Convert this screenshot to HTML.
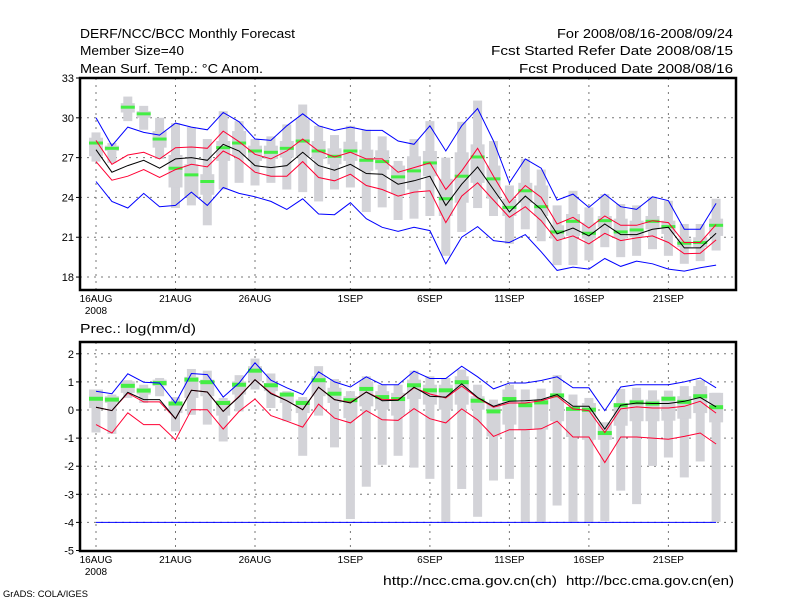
<!DOCTYPE html>
<html><head><meta charset="utf-8"><style>
body{margin:0;background:#fff;}
svg{display:block;font-family:"Liberation Sans",sans-serif;}
</style></head><body>
<svg id="c" width="800" height="600" viewBox="0 0 800 600">
<rect width="800" height="600" fill="#fff"/>
<g font-size="13" fill="#000">
<text x="80" y="38" textLength="215" lengthAdjust="spacingAndGlyphs">DERF/NCC/BCC Monthly Forecast</text>
<text x="80" y="55" textLength="104" lengthAdjust="spacingAndGlyphs">Member Size=40</text>
<text x="80" y="73" textLength="183" lengthAdjust="spacingAndGlyphs">Mean Surf. Temp.: °C Anom.</text>
<text x="733" y="38" text-anchor="end" textLength="176" lengthAdjust="spacingAndGlyphs">For 2008/08/16-2008/09/24</text>
<text x="733" y="55" text-anchor="end" textLength="242" lengthAdjust="spacingAndGlyphs">Fcst Started Refer Date 2008/08/15</text>
<text x="733" y="73" text-anchor="end" textLength="214" lengthAdjust="spacingAndGlyphs">Fcst Produced Date 2008/08/16</text>
<text x="80" y="333" textLength="116" lengthAdjust="spacingAndGlyphs">Prec.: log(mm/d)</text>
<text x="383" y="585" textLength="174" lengthAdjust="spacingAndGlyphs">http://ncc.cma.gov.cn(ch)</text>
<text x="566" y="585" textLength="168" lengthAdjust="spacingAndGlyphs">http://bcc.cma.gov.cn(en)</text>
<text x="3" y="597" font-size="9" textLength="85" lengthAdjust="spacingAndGlyphs">GrADS: COLA/IGES</text>
</g>
<g id="top"></g>
<g id="bot"></g>
</svg>
<script>
const dayLabels = ["16AUG","21AUG","26AUG","1SEP","6SEP","11SEP","16SEP","21SEP"];
const dayLabelIdx = [0,5,10,16,21,26,31,36];
const tTicks = [33,30,27,24,21,18];
const pTicks = [2,1,0,-1,-2,-3,-4,-5];

const tMax = [30.0,27.9,29.3,28.9,28.7,29.6,29.3,29.1,30.4,29.7,28.4,28.3,29.4,30.3,29.4,29.05,29.3,29.05,29.05,28.25,28.0,29.4,27.5,29.4,30.7,28.25,25.1,26.9,26.2,23.8,24.25,23.25,24.25,23.3,23.1,24.05,23.75,21.6,21.6,23.55];
const tUp = [28.3,26.5,27.2,27.4,26.9,27.75,27.8,27.7,29.0,28.2,27.25,26.9,27.5,28.4,27.5,27.05,27.4,26.9,26.9,25.9,26.25,26.6,24.6,26.0,27.7,25.6,23.6,24.9,24.0,22.0,22.5,21.7,22.6,21.9,21.9,22.25,22.1,20.6,20.6,21.95];
const tMean = [27.6,25.9,26.4,26.8,26.2,26.9,27.0,26.8,28.0,27.5,26.4,26.25,26.4,27.4,26.4,26.05,26.5,25.8,25.75,25.0,25.25,25.6,23.4,25.0,26.3,24.6,22.9,24.1,23.1,21.25,21.7,21.1,22.0,21.2,21.2,21.6,21.75,20.2,20.2,21.3];
const tLo = [26.7,25.3,25.6,26.1,25.5,26.1,26.5,26.3,27.5,26.9,25.9,25.6,25.6,26.7,25.5,25.25,25.75,24.9,24.6,24.1,24.4,24.5,22.1,24.1,25.1,23.8,22.5,23.3,22.25,20.75,21.1,20.5,21.3,20.75,20.95,21.1,20.6,19.75,19.8,20.8];
const tMin = [25.2,23.7,23.2,24.3,23.3,23.4,24.4,23.4,24.75,24.3,24.05,23.7,23.1,23.9,22.75,22.7,23.6,22.4,21.75,21.45,21.75,21.5,19.0,21.0,21.8,20.75,20.6,21.2,19.9,18.5,18.75,18.6,19.4,18.8,19.2,19.0,18.6,18.45,18.7,18.9];
const tMed = [28.1,27.7,30.8,30.3,28.4,26.2,25.7,25.2,27.75,28.1,27.5,27.4,27.7,28.25,27.5,27.1,27.5,26.8,26.7,25.55,26.0,26.6,23.9,25.6,27.05,25.4,23.25,24.5,23.3,21.4,22.2,21.3,22.25,21.4,21.55,22.2,21.8,20.55,20.6,21.9];
const tWhHi = [28.9,28.1,31.6,30.9,30.0,29.6,29.3,28.4,30.5,29.75,28.4,28.6,29.5,31.0,29.4,28.7,29.4,29.1,28.6,26.75,28.4,29.75,27.0,29.7,31.3,28.25,24.9,26.9,26.1,23.4,24.5,23.25,24.25,23.5,23.4,24.05,23.75,22.0,22.0,23.9];
const tWhLo = [26.7,26.6,29.75,29.1,26.9,23.2,23.4,21.9,24.6,25.1,24.9,25.1,24.6,24.4,23.7,24.6,24.75,22.9,23.25,22.3,22.4,22.6,19.6,21.4,23.2,22.6,20.5,21.6,20.7,18.9,18.9,19.25,20.25,19.5,19.6,20.1,19.6,19.0,19.2,20.0];
const tBoxHi = [28.5,27.9,31.1,30.5,29.0,27.2,26.5,25.75,28.25,29.0,27.9,27.9,28.25,29.9,28.25,27.7,28.2,27.6,27.55,26.4,27.1,27.5,25.4,27.4,28.0,26.4,23.9,25.1,24.9,21.9,22.75,22.1,22.6,22.4,22.25,22.6,22.25,20.9,21.0,22.4];
const tBoxLo = [27.1,27.5,30.4,30.0,27.75,24.75,24.0,24.2,26.75,27.1,26.75,26.9,27.0,27.1,26.9,26.5,26.75,26.0,26.1,24.25,24.6,25.6,22.6,23.6,25.1,23.9,22.6,23.6,22.6,20.9,21.1,20.9,21.75,20.9,21.0,21.6,21.25,20.25,20.25,21.1];

const pMax = [0.67,0.58,1.29,0.99,0.96,0.25,1.3,1.26,0.46,0.96,1.68,1.06,0.79,0.55,1.36,1.0,0.82,1.18,0.9,0.9,1.38,1.12,1.12,1.56,1.18,0.75,0.96,0.96,1.05,1.18,0.79,0.79,-0.02,0.82,0.9,0.9,0.9,1.0,1.14,0.79];
const pUp = [0.1,-0.02,0.6,0.29,0.29,-0.31,0.7,0.64,-0.05,0.49,1.08,0.61,0.33,0.01,0.81,0.37,0.27,0.64,0.37,0.37,0.79,0.57,0.43,0.85,0.43,0.1,0.25,0.25,0.33,0.49,0.04,-0.02,-0.8,0.04,0.11,0.07,0.07,0.13,0.31,-0.11];
const pMean = [0.1,-0.02,0.63,0.37,0.37,-0.31,0.7,0.64,-0.05,0.47,1.08,0.58,0.33,0.01,0.81,0.37,0.25,0.64,0.33,0.35,0.81,0.49,0.46,0.93,0.45,0.13,0.31,0.33,0.37,0.55,0.13,0.13,-0.68,0.17,0.25,0.23,0.23,0.31,0.45,0.11];
const pLo = [-0.52,-0.82,-0.1,-0.52,-0.52,-1.06,0.01,0.01,-0.68,-0.05,0.39,-0.2,-0.4,-0.61,0.21,-0.29,-0.46,-0.02,-0.35,-0.37,0.05,-0.31,-0.46,0.04,-0.35,-0.94,-0.7,-0.7,-0.67,-0.4,-0.96,-0.96,-1.87,-0.96,-0.96,-1.0,-1.04,-0.94,-0.82,-1.21];
const pMin = [-4,-4,-4,-4,-4,-4,-4,-4,-4,-4,-4,-4,-4,-4,-4,-4,-4,-4,-4,-4,-4,-4,-4,-4,-4,-4,-4,-4,-4,-4,-4,-4,-4,-4,-4,-4,-4,-4,-4,-4];
const pMed = [0.4,0.37,0.86,0.69,0.96,0.23,1.08,0.99,0.25,0.9,1.4,0.88,0.55,0.25,1.06,0.58,0.35,0.75,0.46,0.39,0.88,0.7,0.7,0.99,0.33,-0.05,0.39,0.17,0.27,0.52,0.04,0.01,-0.82,0.17,0.27,0.23,0.4,0.29,0.49,0.1];
const pWhHi = [0.73,0.55,1.06,0.9,1.14,0.46,1.46,1.4,0.43,1.24,1.83,1.3,0.67,0.46,1.56,1.1,0.67,1.2,0.9,0.9,1.4,1.2,1.14,1.44,0.9,0.37,0.9,0.73,0.76,1.24,0.55,0.43,-0.44,0.75,0.79,0.7,0.69,0.85,1.06,0.61];
const pWhLo = [-0.8,-0.85,0.43,0.25,0.49,-0.76,-0.17,-0.52,-1.12,-0.05,0.73,0.07,-0.4,-1.63,-0.2,-1.33,-3.88,-2.73,-1.95,-1.63,-2.05,-2.45,-3.98,-2.81,-3.8,-2.51,-2.45,-3.98,-3.98,-3.4,-3.98,-3.98,-3.95,-2.87,-3.35,-1.99,-1.69,-2.4,-1.83,-3.98];
const pBoxHi = [0.73,0.49,1.02,0.79,1.08,0.31,1.18,1.08,0.35,1.02,1.56,0.96,0.61,0.37,1.2,0.79,0.49,1.02,0.67,0.61,1.08,0.9,0.9,1.2,0.49,0.25,0.73,0.25,0.37,0.55,0.07,0.25,-0.44,0.25,0.37,0.37,0.49,0.49,0.85,0.61];
const pBoxLo = [0.07,0.25,0.61,0.55,0.85,-0.11,0.43,0.49,-0.2,0.55,1.02,0.67,0.25,-0.11,0.49,0.25,-0.29,0.13,0.01,-0.2,0.39,0.19,0.01,0.19,0.01,-0.94,-0.52,-0.7,-0.7,-0.4,-0.96,-1.06,-1.06,-0.56,-0.4,-0.4,-0.38,-0.31,-0.11,-0.44];

const NS = "http://www.w3.org/2000/svg";
const L = 80, R = 736;
function xS(i){ return 96 + 15.9 * i; }
function yT(v){ return 78 + (33 - v) * 13.27; }
function yB(v){ return 410 - 28.1 * v; }
function mk(parent, tag, attrs){
  const e = document.createElementNS(NS, tag);
  for (const k in attrs) e.setAttribute(k, attrs[k]);
  parent.appendChild(e);
  return e;
}
function panel(g, top, bottom, ticks, ys, ser, names, pfx){
  // grid
  ticks.forEach(function(t){
    const y = ys(t);
    if (y > top + 2 && y < bottom - 2) {
      const gl = mk(g, "line", {x1:L, x2:R, y1:y, y2:y, stroke:"#777", "stroke-width":1, "stroke-dasharray":"2,5"});
      
      
    }
    const tk = mk(g, "line", {x1:L-4, x2:L, y1:y, y2:y, stroke:"#000", "stroke-width":1});
    
    
    const tl = mk(g, "text", {x:L-6, y:y+4, "text-anchor":"end", "font-size":11});
    tl.textContent = String(t);
    
    
  });
  dayLabelIdx.forEach(function(d, k){
    const x = xS(d);
    const vl = mk(g, "line", {x1:x, x2:x, y1:top, y2:bottom, stroke:"#777", "stroke-width":1, "stroke-dasharray":"2,5"});
    
    
    const xl = mk(g, "text", {x:x, y:bottom+12, "text-anchor":"middle", "font-size":10});
    xl.textContent = dayLabels[k];
    
    
  });
  const yr = mk(g, "text", {x:xS(0), y:bottom+24, "text-anchor":"middle", "font-size":10});
  yr.textContent = "2008";
  
  
  // whiskers & boxes
  for (let i = 0; i < ser.whHi.length; i++) {
    const x = xS(i);
    const w = mk(g, "rect", {x:x-4.5, y:ys(ser.whHi[i]), width:9, height:ys(ser.whLo[i])-ys(ser.whHi[i]), fill:"#d3d3d8"});
    
    
    const b = mk(g, "rect", {x:x-7, y:ys(ser.bHi[i]), width:14, height:Math.max(1, ys(ser.bLo[i])-ys(ser.bHi[i])), fill:"#d3d3d8"});
    
    
  }
  for (let i = 0; i < ser.med.length; i++) {
    const m = mk(g, "rect", {x:xS(i)-7, y:ys(ser.med[i])-ser.mh/2, width:14, height:ser.mh, fill:"#44ee44"});
    
    
  }
  const lines = [[ser.min,"#0000ff","min-line"],[ser.lo,"#ff0033","lower-line"],[ser.up,"#ff0033","upper-line"],[ser.max,"#0000ff","max-line"],[ser.mean,"#000000","mean-line"]];
  lines.forEach(function(ln){
    const pts = ln[0].map(function(v,i){ return xS(i).toFixed(1) + "," + ys(v).toFixed(1); }).join(" ");
    const p = mk(g, "polyline", {points:pts, fill:"none", stroke:ln[1], "stroke-width":1});
    
    
  });
  const fr = mk(g, "rect", {x:L, y:top, width:R-L, height:bottom-top, fill:"none", stroke:"#000", "stroke-width":2.5});
  
  
}
panel(document.getElementById("top"), 78, 290, tTicks, yT,
  {max:tMax, up:tUp, mean:tMean, lo:tLo, min:tMin, med:tMed, whHi:tWhHi, whLo:tWhLo, bHi:tBoxHi, bLo:tBoxLo, mh:3}, null, "temp");
panel(document.getElementById("bot"), 342, 551, pTicks, yB,
  {max:pMax, up:pUp, mean:pMean, lo:pLo, min:pMin, med:pMed, whHi:pWhHi, whLo:pWhLo, bHi:pBoxHi, bLo:pBoxLo, mh:4}, null, "prec");
</script>
</body></html>
